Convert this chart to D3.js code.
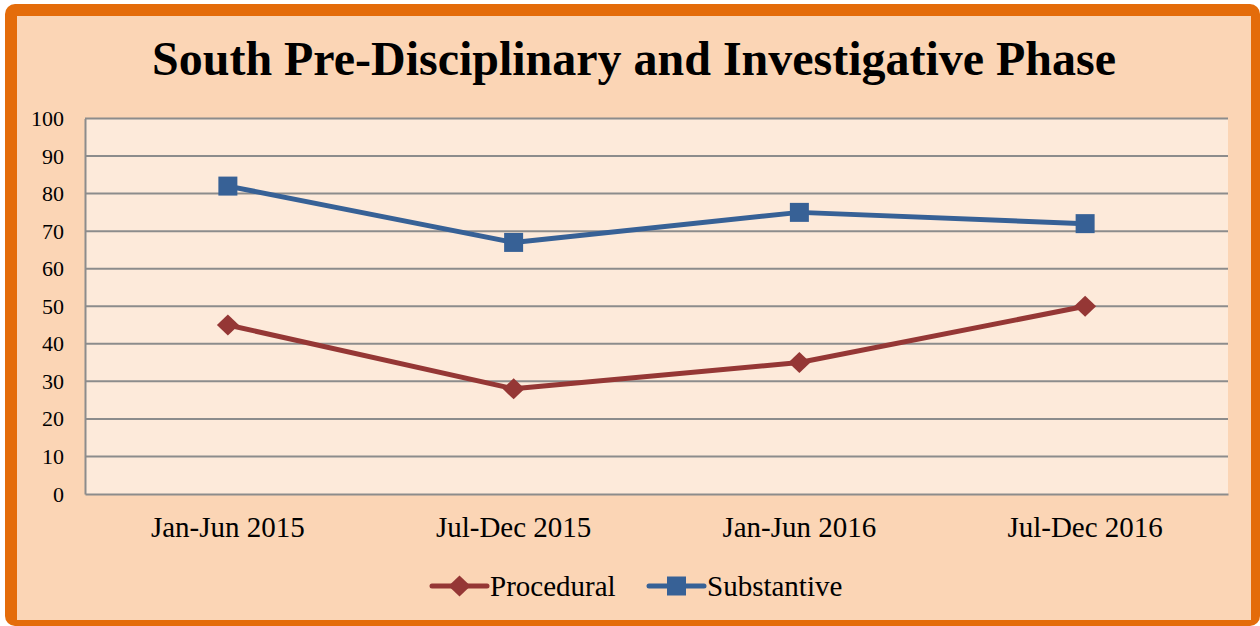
<!DOCTYPE html>
<html><head><meta charset="utf-8">
<script src="https://cdn.jsdelivr.net/npm/d3@7"></script>
<style>html,body{margin:0;padding:0;background:#fff;}svg{display:block;}</style>
</head><body>
<svg id="chart" width="1260" height="626"></svg>
<script>
const categories = ["Jan-Jun 2015", "Jul-Dec 2015", "Jan-Jun 2016", "Jul-Dec 2016"];
const procedural = [45, 28, 35, 50];
const substantive = [82, 67, 75, 72];
const yTicks = [0, 10, 20, 30, 40, 50, 60, 70, 80, 90, 100];
const seriesNames = ["Procedural", "Substantive"];
const titleText = "South Pre-Disciplinary and Investigative Phase";

const W = 1260, H = 626;
const svg = d3.select("#chart");
const font = "'Liberation Serif','Times New Roman',serif";
const colors = {Procedural: "#953735", Substantive: "#376196"};

// outer frame
svg.append("rect").attr("x", 5).attr("y", 4).attr("width", 1255).attr("height", 622)
  .attr("rx", 10).attr("fill", "#E46C0A");
svg.append("rect").attr("x", 17).attr("y", 16).attr("width", 1234).attr("height", 604)
  .attr("fill", "#FBD5B5");

const m = {left: 85, right: 1228, top: 118.5, bottom: 494};
const x = d3.scaleBand().domain(categories).range([m.left, m.right]);
const y = d3.scaleLinear().domain([0, 100]).range([m.bottom, m.top]);

svg.append("rect").attr("x", m.left).attr("y", m.top)
  .attr("width", m.right - m.left).attr("height", m.bottom - m.top).attr("fill", "#FDEADA");

// gridlines
svg.append("g").selectAll("line").data(yTicks.filter(d => d > 0)).join("line")
  .attr("x1", m.left).attr("x2", m.right)
  .attr("y1", d => y(d)).attr("y2", d => y(d))
  .attr("stroke", "#8C8C8C").attr("stroke-width", 2);

// y axis
const yAxis = svg.append("g").attr("transform", `translate(${m.left},0)`)
  .call(d3.axisLeft(y).tickValues(yTicks).tickSize(0).tickPadding(21).tickFormat(d3.format("d")));
yAxis.select(".domain").attr("stroke", "#8C8C8C").attr("stroke-width", 2);
yAxis.selectAll("text").attr("font-family", font).attr("font-size", 22).attr("fill", "#000");

// x axis
const xAxis = svg.append("g").attr("transform", `translate(0,${m.bottom})`)
  .call(d3.axisBottom(x).tickSize(0).tickPadding(22));
xAxis.select(".domain").attr("stroke", "#8C8C8C").attr("stroke-width", 2);
xAxis.selectAll("text").attr("font-family", font).attr("font-size", 29).attr("fill", "#000");

const cx = d => x(d) + x.bandwidth() / 2;
const line = d3.line().x((d, i) => cx(categories[i])).y(d => y(d));

const diamond = "M0,-10.5L11,0L0,10.5L-11,0Z";
const square = "M-9.5,-9.5H9.5V9.5H-9.5Z";

function drawSeries(name, values, marker) {
  const g = svg.append("g");
  g.append("path").datum(values).attr("d", line).attr("fill", "none")
    .attr("stroke", colors[name]).attr("stroke-width", 5).attr("stroke-linejoin", "round");
  g.selectAll("path.m").data(values).join("path").attr("class", "m")
    .attr("transform", (d, i) => `translate(${cx(categories[i])},${y(d)})`)
    .attr("d", marker).attr("fill", colors[name]);
}
drawSeries("Procedural", procedural, diamond);
drawSeries("Substantive", substantive, square);

// legend
const legend = [
  {name: "Procedural", x0: 432, marker: diamond},
  {name: "Substantive", x0: 649, marker: square}
];
const ly = 586;
legend.forEach(l => {
  svg.append("line").attr("x1", l.x0).attr("x2", l.x0 + 55).attr("y1", ly).attr("y2", ly)
    .attr("stroke", colors[l.name]).attr("stroke-width", 5).attr("stroke-linecap", "round");
  svg.append("path").attr("transform", `translate(${l.x0 + 27.5},${ly})`).attr("d", l.marker)
    .attr("fill", colors[l.name]);
  svg.append("text").attr("x", l.x0 + 58).attr("y", ly).attr("dy", "0.35em")
    .attr("font-family", font).attr("font-size", 29).text(l.name);
});

// title
const t = svg.append("text").attr("x", 634).attr("y", 75).attr("text-anchor", "middle")
  .attr("font-family", font).attr("font-weight", "bold").attr("font-size", 48).text(titleText);
const len = t.node().getComputedTextLength();
t.attr("font-size", 48 * 964 / len);
</script>
</body></html>
